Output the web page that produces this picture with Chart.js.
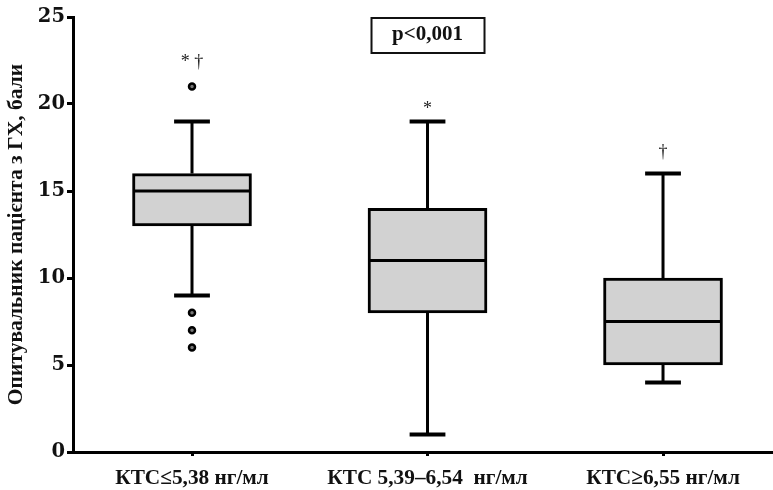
<!DOCTYPE html>
<html>
<head>
<meta charset="utf-8">
<script src="https://cdn.jsdelivr.net/npm/chart.js@4"></script>
<style>
  html, body { margin: 0; padding: 0; background: #fff; }
  canvas { display: block; }
</style>
</head>
<body>
<canvas id="chart" width="773" height="490"></canvas>
<script>
const groups = ["КТС≤5,38 нг/мл", "КТС 5,39–6,54  нг/мл", "КТС≥6,55 нг/мл"];
const whiskerLow = [9, 1, 4];
const q1 = [13, 8, 5];
const median = [15, 11, 7.5];
const q3 = [16, 14, 10];
const whiskerHigh = [19, 19, 16];
const outliers = [[21, 8, 7, 6], [], []];
const markers = ["* †", "*", "†"];
const markerLevels = [22.4, 19.7, 17.2];
const yTicks = [0, 5, 10, 15, 20, 25];
const pLabel = "p<0,001";

const SERIF = "'Liberation Serif', 'Times New Roman', serif";
const BOX_HALF = 0.245;   // half box width, in x units
const CAP_HALF = 0.076;   // half whisker cap width

// whisker stems and caps as broken line segments
const stemPoints = [];
const capPoints = [];
groups.forEach((g, i) => {
  const x = i + 1;
  stemPoints.push({ x, y: q3[i] }, { x, y: whiskerHigh[i] }, { x, y: null });
  stemPoints.push({ x, y: q1[i] }, { x, y: whiskerLow[i] }, { x, y: null });
  capPoints.push({ x: x - CAP_HALF, y: whiskerHigh[i] }, { x: x + CAP_HALF, y: whiskerHigh[i] }, { x, y: null });
  capPoints.push({ x: x - CAP_HALF, y: whiskerLow[i] }, { x: x + CAP_HALF, y: whiskerLow[i] }, { x, y: null });
});

const medianPoints = [];
groups.forEach((g, i) => {
  medianPoints.push({ x: i + 1 - BOX_HALF, y: median[i] }, { x: i + 1 + BOX_HALF, y: median[i] }, { x: i + 1, y: null });
});

const outlierPoints = [];
outliers.forEach((list, i) => list.forEach((v) => outlierPoints.push({ x: i + 1, y: v })));

const annotations = {
  id: "annotations",
  afterDatasetsDraw(chart) {
    const { ctx, scales: { x, y }, chartArea } = chart;
    ctx.save();
    ctx.fillStyle = "#222";
    ctx.textAlign = "center";
    ctx.textBaseline = "middle";
    ctx.font = "18px " + SERIF;
    markers.forEach((m, i) => {
      ctx.fillText(m, x.getPixelForValue(i + 1), y.getPixelForValue(markerLevels[i]));
    });

    // p-value box above the middle group
    const cx = x.getPixelForValue(2);
    const top = chartArea.top;
    ctx.lineWidth = 2;
    ctx.strokeStyle = "#111";
    ctx.strokeRect(cx - 56, top + 1, 113, 35);
    ctx.fillStyle = "#111";
    ctx.font = "bold 21px " + SERIF;
    ctx.fillText(pLabel, cx, top + 18);
    ctx.restore();
  },
};

const lineStyle = { type: "line", borderColor: "#000", borderCapStyle: "butt", pointRadius: 0, spanGaps: false };

new Chart(document.getElementById("chart"), {
  data: {
    datasets: [
      { ...lineStyle, data: medianPoints, borderWidth: 3, order: 1 },
      {
        type: "scatter",
        data: outlierPoints,
        pointRadius: 3,
        pointBackgroundColor: "#777",
        pointBorderColor: "#000",
        pointBorderWidth: 2.5,
        order: 0,
      },
      { ...lineStyle, data: stemPoints, borderWidth: 3, order: 3 },
      { ...lineStyle, data: capPoints, borderWidth: 4, order: 3 },
      {
        type: "bar",
        data: groups.map((g, i) => ({ x: i + 1, y: [q1[i], q3[i]] })),
        backgroundColor: "#d2d2d2",
        borderColor: "#000",
        borderWidth: 3,
        borderSkipped: false,
        barThickness: 119,
        order: 2,
      },
    ],
  },
  options: {
    responsive: false,
    animation: false,
    layout: { autoPadding: false, padding: { top: 17, right: 0, bottom: 0, left: 0 } },
    plugins: { legend: { display: false }, tooltip: { enabled: false } },
    scales: {
      x: {
        type: "linear",
        min: 0.4947,
        max: 3.467,
        offset: false,
        afterBuildTicks: (axis) => { axis.ticks = groups.map((g, i) => ({ value: i + 1 })); },
        afterFit: (axis) => { axis.height = 38; },
        grid: { display: true, offset: false, drawOnChartArea: false, drawTicks: true, tickLength: 4, tickWidth: 3, color: "#000" },
        border: { display: true, width: 3, color: "#000" },
        ticks: {
          padding: 10,
          maxRotation: 0,
          autoSkip: false,
          color: "#111",
          font: { family: SERIF, size: 21.3, weight: "bold" },
          callback: (v) => groups[v - 1] ?? "",
        },
      },
      y: {
        min: 0,
        max: 25,
        afterBuildTicks: (axis) => { axis.ticks = yTicks.map((v) => ({ value: v })); },
        afterFit: (axis) => { axis.width = 73; },
        grid: { display: true, drawOnChartArea: false, drawTicks: true, tickLength: 6, tickWidth: 3, color: "#000" },
        border: { display: true, width: 3, color: "#000" },
        ticks: {
          padding: 2,
          color: "#111",
          font: { family: "'DejaVu Serif', serif", size: 19.5, weight: "bold" },
        },
        title: {
          display: true,
          text: "Опитувальник пацієнта з ГХ, бали",
          color: "#111",
          font: { family: SERIF, size: 21.5, weight: "bold" },
          padding: { top: 4, bottom: 0 },
        },
      },
    },
  },
  plugins: [annotations],
});
</script>
</body>
</html>
